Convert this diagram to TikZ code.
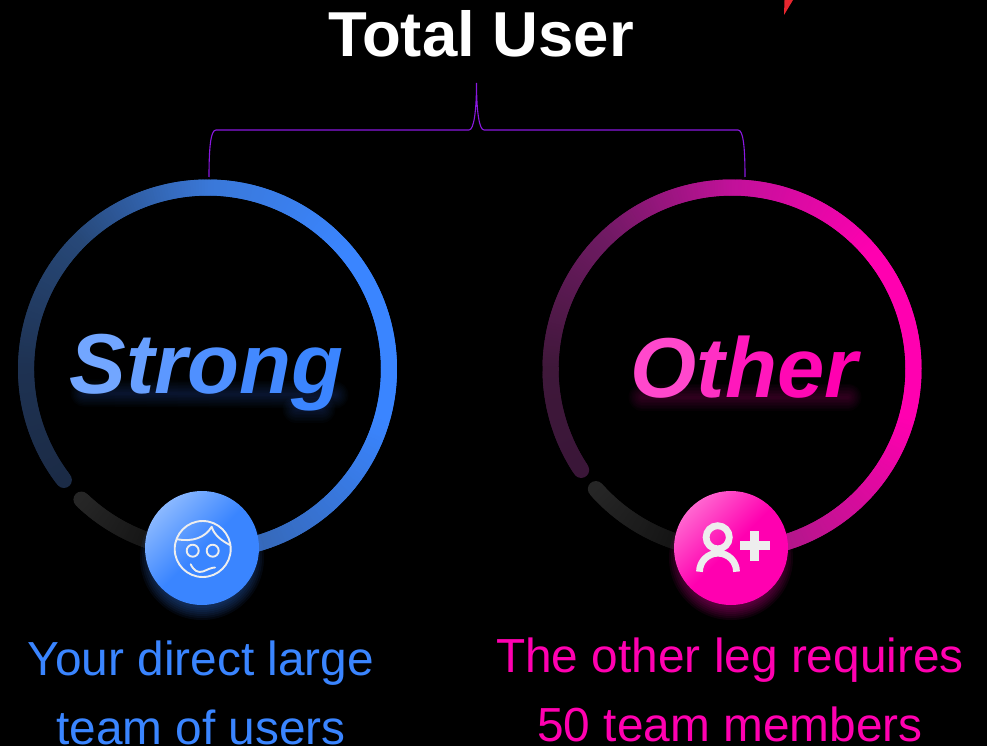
\documentclass[tikz,border=0pt]{standalone}
\usepackage{fontspec}
\setmainfont{Liberation Sans}
\usetikzlibrary{calc}
\definecolor{bluemain}{HTML}{3A85FF}
\definecolor{pinkmain}{HTML}{FF00B0}
\definecolor{lightblue}{HTML}{8AB8FF}
\definecolor{lightpink}{HTML}{FF66D0}
\definecolor{iconwhite}{HTML}{EEEEEE}
\definecolor{bracketpurple}{HTML}{8A18E0}
\definecolor{trired}{HTML}{E8262F}
\definecolor{bA}{HTML}{1B2B46}\definecolor{bB}{HTML}{1E3252}\definecolor{bM}{HTML}{274878}\definecolor{bC}{HTML}{3A78D8}\definecolor{bD}{HTML}{3A85FF}\definecolor{bE}{HTML}{3565B0}
\definecolor{pA}{HTML}{3A1638}\definecolor{pB}{HTML}{3F183A}\definecolor{pM}{HTML}{6E1A62}\definecolor{pC}{HTML}{C2119A}\definecolor{pD}{HTML}{FF00B0}\definecolor{pE}{HTML}{A81A85}
\definecolor{dA}{HTML}{262626}\definecolor{dB}{HTML}{0F0F0F}
\tikzset{
  x=1pt,y=-1pt,
  title text/.style={font=\fontsize{63.5}{63.5}\selectfont\bfseries,text=white,anchor=base,inner sep=0pt},
  big text/.style={font=\fontsize{85}{85}\selectfont\bfseries\itshape,anchor=base,inner sep=0pt},
  caption text/.style={font=\fontsize{47.8}{69}\selectfont,align=center,anchor=north,inner sep=0pt},
  badge/.style={circle,minimum size=114pt,inner sep=0pt},
  bracket line/.style={draw=bracketpurple,line width=1.1pt},
  icon line/.style={draw=iconwhite,line width=1.9pt,line cap=round,line join=round},
  icon bold/.style={draw=iconwhite,line width=6.8pt},
  text glow/.style={line cap=round,opacity=.022},
}
% arc with colour running from #4 to #5, angles #2 to #3 (given in picture degrees)
\newcommand{\ringpart}[5]{%
  \foreach \t in {0,2,...,98}{%
    \pgfmathsetmacro{\aS}{#2+(#3-#2)*\t/100}
    \pgfmathsetmacro{\aE}{#2+(#3-#2)*(\t+4)/100}
    \draw[line width=16pt,#5!\t!#4] ($(#1)+(\aS:181.5)$) arc[start angle=\aS,end angle=\aE,radius=181.5];
  }}
\newcommand{\StrongWord}{\textcolor[HTML]{72A6FF}{S}\textcolor[HTML]{68A0FF}{t}\textcolor[HTML]{5C98FF}{r}\textcolor[HTML]{4F90FF}{o}\textcolor[HTML]{4389FF}{n}\textcolor[HTML]{3B85FF}{g}}
\newcommand{\OtherWord}{\textcolor[HTML]{FF48CC}{O}\textcolor[HTML]{FF30C4}{t}\textcolor[HTML]{FF18BC}{h}\textcolor[HTML]{FF08B4}{e}\textcolor[HTML]{FF00B0}{r}}
\begin{document}
\begin{tikzpicture}
\useasboundingbox (0,0) rectangle (987,746);
\fill[black] (0,0) rectangle (987,746);
\coordinate (cL) at (207.5,369);
\coordinate (cR) at (732,369);
\coordinate (bL) at (202,548);
\coordinate (bR) at (731,548);

% red corner
\fill[trired] (784,15) -- (784.5,0) -- (793,0) -- cycle;

% title and bracket
\node[title text] (title) at (481,57) {Total User};
\coordinate (brTop) at (476.5,83);
\coordinate (footL) at (209,177);
\coordinate (footR) at (745,177);
\draw[bracket line] (footL) .. controls (209,145) and (211,130) .. (216,130)
  -- (469,130) .. controls (474,130) and (476.5,110) .. (brTop)
  .. controls (476.5,110) and (479,130) .. (484,130)
  -- (738,130) .. controls (743,130) and (745,145) .. (footR);

% rings
\fill[bA] ($(cL)+(142.3:181.5)$) circle (8);
\ringpart{cL}{142.3}{180}{bA}{bB}
\ringpart{cL}{180}{225}{bB}{bM}
\ringpart{cL}{225}{270}{bM}{bC}
\ringpart{cL}{270}{320}{bC}{bD}
\ringpart{cL}{320}{375}{bD}{bD}
\ringpart{cL}{375}{440}{bD}{bE}
\fill[dA] ($(cL)+(134:181.5)$) circle (8);
\ringpart{cL}{134}{100}{dA}{dB}

\fill[pA] ($(cR)+(146.2:181.5)$) circle (8);
\ringpart{cR}{146.2}{180}{pA}{pB}
\ringpart{cR}{180}{225}{pB}{pM}
\ringpart{cR}{225}{270}{pM}{pC}
\ringpart{cR}{270}{320}{pC}{pD}
\ringpart{cR}{320}{375}{pD}{pD}
\ringpart{cR}{375}{440}{pD}{pE}
\fill[dA] ($(cR)+(138.6:181.5)$) circle (8);
\ringpart{cR}{138.6}{100}{dA}{dB}

% soft glow under the two big words
\foreach \w in {3,6,...,27}{
  \draw[text glow,bluemain,line width=\w pt] (84,393) -- (335,395);
  \draw[text glow,bluemain,line width=\w pt] (296,409) -- (322,409);
  \draw[text glow,pinkmain,line width=\w pt] (642,397) -- (848,397);
}
\node[big text] (strong) at (206.5,393) {\StrongWord};
\node[big text] (other) at (744,397) {\OtherWord};

% badge glows
\foreach \r in {50,52,...,62}{
  \fill[bluemain,opacity=.06] ($(bL)+(0,10)$) circle (\r);
  \fill[pinkmain,opacity=.06] ($(bR)+(0,10)$) circle (\r);
}
\node[badge,top color=lightblue,bottom color=bluemain,middle color=bluemain,shading angle=45] (badgeL) at (bL) {};
\node[badge,top color=lightpink,bottom color=pinkmain,middle color=pinkmain,shading angle=45] (badgeR) at (bR) {};

% face icon
\draw[icon line] (202.7,549) circle (28);
\draw[icon line] (192.7,550.7) circle (6);
\draw[icon line] (212.7,550.7) circle (6);
\draw[icon line] (190.7,564.3) .. controls (194,571) and (198,573) .. (203,571.5) .. controls (207,570) and (211,567.5) .. (215,567.5);
\draw[icon line] (177.3,539.3) .. controls (192,542) and (205,538) .. (211.7,526.7) .. controls (214,535) and (222,541) .. (230,545);

% add-user icon
\draw[icon bold] (717.7,537.3) circle (11.6);
\draw[icon bold] (699.5,571.7) arc[start angle=180,end angle=360,radius=18.5];
\fill[iconwhite] (740,541.4) rectangle (769.5,550);
\fill[iconwhite] (750.2,531) rectangle (758.8,560.5);

% captions
\node[caption text,text=bluemain] (capL) at (201,640.5) {Your direct large\\team of users};
\node[caption text,text=pinkmain] (capR) at (730,637.5) {The other leg requires\\50 team members};
\end{tikzpicture}
\end{document}
